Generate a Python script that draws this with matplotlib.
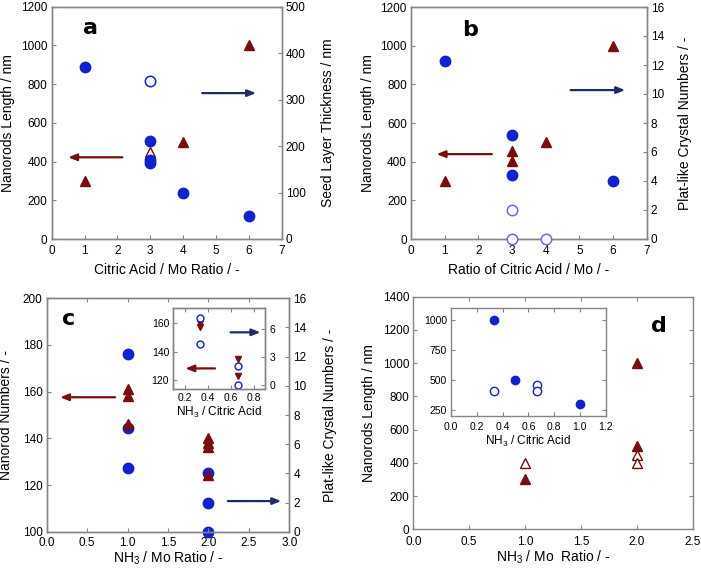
import matplotlib
matplotlib.use("Agg")
import matplotlib.pyplot as plt
from matplotlib.ticker import MultipleLocator

plt.rcParams['font.family'] = ['Liberation Sans', 'DejaVu Sans']
plt.rcParams['mathtext.default'] = 'regular'

BLUE = '#1020d2'
LBLUE = '#6a6af0'
RED = '#7a0c0c'
NAVY = '#1c2c6c'
GRAY = '#858585'

# ---------------- data ----------------
# panel a
a_tri_x = [1, 4, 6]
a_tri_y = [300, 500, 1000]
a_otri_x = [3]
a_otri_y = [450]
a_circ_x = [1, 3, 3, 3, 4, 6]
a_circ_y = [370, 210, 171, 164, 100, 50]
a_ocirc_x = [3]
a_ocirc_y = [340]

# panel b
b_tri_x = [1, 3, 3, 4, 6]
b_tri_y = [300, 455, 405, 500, 1000]
b_circ_x = [1, 3, 3, 6]
b_circ_y = [12.25, 7.15, 4.4, 4.0]
b_ocirc_x = [3, 3, 4]
b_ocirc_y = [2.0, 0, 0]

# panel c
c_tri_x = [1, 1, 1, 2, 2, 2, 2]
c_tri_y = [161, 158, 146, 140, 138, 136.5, 124.5]
c_circ_x = [1, 1, 1, 2, 2, 2]
c_circ_y = [12.2, 7.1, 4.4, 4.0, 2.0, 0]
ci_tri_x = [0.333, 0.333, 0.667, 0.667]
ci_tri_y = [160.4, 157, 134.8, 123]
ci_circ_x = [0.333, 0.333, 0.667, 0.667]
ci_circ_y = [7.2, 4.45, 2.0, 0]

# panel d
d_tri_x = [1, 2, 2]
d_tri_y = [300, 1000, 500]
d_otri_x = [1, 2, 2]
d_otri_y = [400, 450, 400]
di_circ_x = [0.333, 0.5, 1.0]
di_circ_y = [1000, 500, 300]
di_ocirc_x = [0.333, 0.667, 0.667]
di_ocirc_y = [405, 455, 405]

# arrows: (x_tail, x_head, y)
a_arrows = [(2.15, 0.5, 422), (4.58, 6.22, 314)]
b_arrows = [(2.4, 0.76, 439), (4.74, 6.36, 10.27)]
c_arrows = [(0.845, 0.165, 157.6), (2.24, 2.9, 2.1)]
ci_arrows = [(0.464, 0.205, 128.2), (0.6, 0.86, 5.68)]

W, H = 701, 568
fig = plt.figure(figsize=(W / 100, H / 100), dpi=100)


def rect(l, r, t, b):
    return [l / W, (H - b) / H, (r - l) / W, (b - t) / H]


def style(ax, fs=8.5, top=False, xpad=4):
    for s in ax.spines.values():
        s.set_color(GRAY)
        s.set_linewidth(1.0)
    ax.tick_params(direction='in', length=3, width=0.8, color=GRAY,
                   labelsize=fs, pad=3, top=top)
    ax.tick_params(axis='x', pad=xpad)


def arrow(ax, x0, x1, y, color):
    ax.annotate('', xy=(x1, y), xytext=(x0, y),
                arrowprops=dict(arrowstyle='-|>,head_length=0.5,head_width=0.2',
                                color=color, lw=1.6, shrinkA=0, shrinkB=0))


LFS = 10
MS = 7.5

# ---------------- panel a ----------------
ax = fig.add_axes(rect(51.7, 281.7, 6.7, 239))
ax2 = ax.twinx()
style(ax); style(ax2)
ax.set_xlim(0, 7); ax.set_ylim(0, 1200)
ax2.set_ylim(0, 500)
ax.xaxis.set_major_locator(MultipleLocator(1))
ax.yaxis.set_major_locator(MultipleLocator(200))
ax2.yaxis.set_major_locator(MultipleLocator(100))
ax.plot(a_tri_x, a_tri_y, '^', color=RED, ms=6.5, ls='none')
ax.plot(a_otri_x, a_otri_y, '^', mfc='white', mec=RED, mew=1, ms=6.5, ls='none')
ax2.plot(a_circ_x, a_circ_y, 'o', color=BLUE, ms=MS, ls='none')
ax2.plot(a_ocirc_x, a_ocirc_y, 'o', mfc='white', mec=BLUE, mew=1.1, ms=MS, ls='none')
arrow(ax, a_arrows[0][0], a_arrows[0][1], a_arrows[0][2], RED)
arrow(ax2, a_arrows[1][0], a_arrows[1][1], a_arrows[1][2], NAVY)
ax.set_xlabel('Citric Acid / Mo Ratio / -', fontsize=LFS, labelpad=5)
ax.set_ylabel('Nanorods Length / nm', fontsize=LFS, labelpad=4)
ax2.set_ylabel('Seed Layer Thickness / nm', fontsize=LFS, labelpad=11)
ax.text(0.17, 0.91, 'a', transform=ax.transAxes, fontsize=16, fontweight='bold',
        family='DejaVu Sans', va='center', ha='center')

# ---------------- panel b ----------------
ax = fig.add_axes(rect(411, 646.7, 7, 239))
ax2 = ax.twinx()
style(ax); style(ax2)
ax.set_xlim(0, 7); ax.set_ylim(0, 1200)
ax2.set_ylim(0, 16)
ax.xaxis.set_major_locator(MultipleLocator(1))
ax.yaxis.set_major_locator(MultipleLocator(200))
ax2.yaxis.set_major_locator(MultipleLocator(2))
ax.plot(b_tri_x, b_tri_y, '^', color=RED, ms=6.5, ls='none')
ax2.plot(b_ocirc_x[1:], b_ocirc_y[1:], '-', color=LBLUE, lw=1, alpha=0.7)
ax2.plot(b_circ_x, b_circ_y, 'o', color=BLUE, ms=MS, ls='none')
ax2.plot(b_ocirc_x, b_ocirc_y, 'o', mfc='white', mec=LBLUE, mew=1.1, ms=MS, ls='none',
         clip_on=False, zorder=5)
arrow(ax, b_arrows[0][0], b_arrows[0][1], b_arrows[0][2], RED)
arrow(ax2, b_arrows[1][0], b_arrows[1][1], b_arrows[1][2], NAVY)
ax.set_xlabel('Ratio of Citric Acid / Mo / -', fontsize=LFS, labelpad=5)
ax.set_ylabel('Nanorods Length / nm', fontsize=LFS, labelpad=4)
ax2.set_ylabel('Plat-like Crystal Numbers / -', fontsize=LFS, labelpad=10)
ax.text(0.25, 0.90, 'b', transform=ax.transAxes, fontsize=16, fontweight='bold',
        family='DejaVu Sans', va='center', ha='center')

# ---------------- panel c ----------------
ax = fig.add_axes(rect(46.7, 289.3, 298.3, 531.7))
ax2 = ax.twinx()
style(ax, top=True, xpad=4); style(ax2, xpad=4)
ax.set_xlim(0, 3); ax.set_ylim(100, 200)
ax2.set_ylim(0, 16)
ax.xaxis.set_major_locator(MultipleLocator(0.5))
ax.yaxis.set_major_locator(MultipleLocator(20))
ax2.yaxis.set_major_locator(MultipleLocator(2))
ax.xaxis.set_major_formatter(matplotlib.ticker.FormatStrFormatter('%.1f'))
ax2.plot(c_circ_x, c_circ_y, 'o', color=BLUE, ms=MS, ls='none', clip_on=False)
ax.plot(c_tri_x, c_tri_y, '^', color=RED, ms=6.5, ls='none')
ax.set_zorder(ax2.get_zorder() + 1); ax.patch.set_visible(False)
arrow(ax, c_arrows[0][0], c_arrows[0][1], c_arrows[0][2], RED)
arrow(ax2, c_arrows[1][0], c_arrows[1][1], c_arrows[1][2], NAVY)
ax.set_xlabel('NH$_3$ / Mo Ratio / -', fontsize=LFS, labelpad=0)
ax.set_ylabel('Nanorod Numbers / -', fontsize=LFS, labelpad=7)
ax2.set_ylabel('Plat-like Crystal Numbers / -', fontsize=LFS, labelpad=12)
ax.text(0.09, 0.91, 'c', transform=ax.transAxes, fontsize=16, fontweight='bold',
        family='DejaVu Sans', va='center', ha='center')

# inset c
axi = fig.add_axes(rect(173.3, 265, 308.3, 389.3))
axi2 = axi.twinx()
style(axi, fs=7.5, top=True, xpad=3); style(axi2, fs=7.5, xpad=3)
axi.set_xlim(0.1, 0.9); axi.set_ylim(113.5, 170.5)
axi2.set_ylim(-0.46, 8.27)
axi.xaxis.set_major_locator(MultipleLocator(0.2))
axi.yaxis.set_major_locator(MultipleLocator(20))
axi2.yaxis.set_major_locator(MultipleLocator(3))
axi.plot(ci_tri_x, ci_tri_y, 'v', color=RED, ms=5, ls='none')
axi2.plot(ci_circ_x, ci_circ_y, 'o', mfc='white', mec=BLUE, mew=1, ms=5, ls='none')
arrow(axi, ci_arrows[0][0], ci_arrows[0][1], ci_arrows[0][2], RED)
arrow(axi2, ci_arrows[1][0], ci_arrows[1][1], ci_arrows[1][2], NAVY)
axi.set_xlabel('NH$_3$ / Citric Acid', fontsize=8.5, labelpad=1)

# ---------------- panel d ----------------
ax = fig.add_axes(rect(413.3, 692.7, 296.7, 529.3))
style(ax, top=True, xpad=5)
ax.tick_params(right=True)
ax.set_xlim(0, 2.5); ax.set_ylim(0, 1400)
ax.xaxis.set_major_locator(MultipleLocator(0.5))
ax.yaxis.set_major_locator(MultipleLocator(200))
ax.xaxis.set_major_formatter(matplotlib.ticker.FormatStrFormatter('%.1f'))
ax.plot(d_tri_x, d_tri_y, '^', color=RED, ms=6.5, ls='none')
ax.plot(d_otri_x, d_otri_y, '^', mfc='white', mec=RED, mew=1, ms=7, ls='none')
ax.set_xlabel('NH$_3$ / Mo  Ratio / -', fontsize=LFS, labelpad=0)
ax.set_ylabel('Nanorods Length / nm', fontsize=LFS, labelpad=5)
ax.text(0.88, 0.875, 'd', transform=ax.transAxes, fontsize=16, fontweight='bold',
        family='DejaVu Sans', va='center', ha='center')

# inset d
axi = fig.add_axes(rect(451, 605.7, 308.3, 416))
style(axi, fs=7.5, top=True, xpad=4)
axi.tick_params(right=True)
axi.set_xlim(0, 1.2); axi.set_ylim(200, 1100)
axi.xaxis.set_major_locator(MultipleLocator(0.2))
axi.yaxis.set_major_locator(MultipleLocator(250))
axi.xaxis.set_major_formatter(matplotlib.ticker.FormatStrFormatter('%.1f'))
axi.plot(di_circ_x, di_circ_y, 'o', color=BLUE, ms=6, ls='none')
axi.plot(di_ocirc_x, di_ocirc_y, 'o', mfc='white', mec=BLUE, mew=1, ms=6, ls='none')
axi.set_xlabel('NH$_3$ / Citric Acid', fontsize=8.5, labelpad=2)

fig.savefig('out.png', dpi=100)
